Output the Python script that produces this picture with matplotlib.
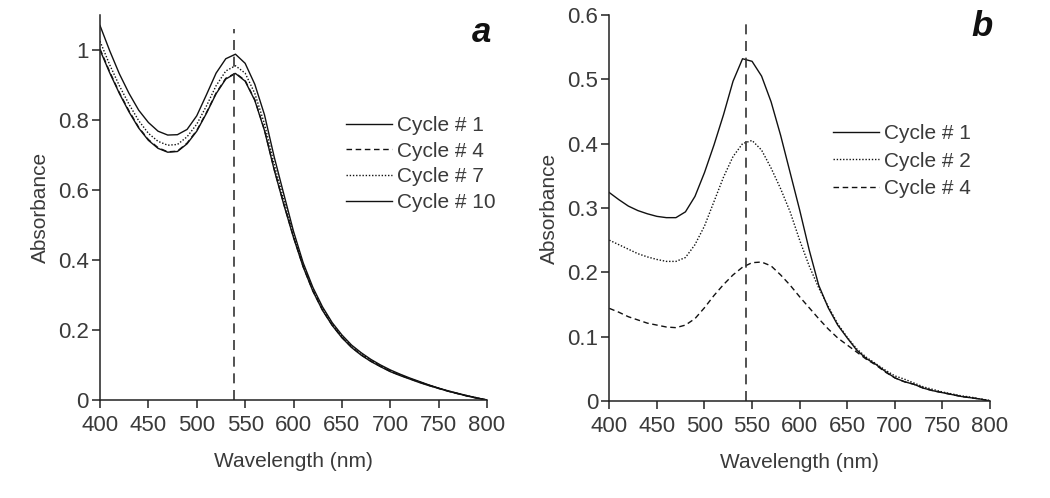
import matplotlib
matplotlib.use("Agg")
import matplotlib.pyplot as plt
import numpy as np

plt.rcParams['font.family'] = ['Liberation Sans', 'DejaVu Sans']

# ---------------- data ----------------
wl = list(range(400, 801, 10))

# Panel a
a_cycle1 = [1.070, 0.998, 0.932, 0.876, 0.828, 0.793, 0.768, 0.757, 0.758, 0.773,
            0.812, 0.872, 0.934, 0.975, 0.988, 0.962, 0.902, 0.815, 0.695, 0.588,
            0.482, 0.392, 0.322, 0.266, 0.221, 0.186, 0.157, 0.135, 0.116, 0.100,
            0.086, 0.074, 0.063, 0.053, 0.043, 0.034, 0.026, 0.019, 0.012, 0.006, 0.000]
a_cycle4 = [1.003, 0.938, 0.878, 0.826, 0.779, 0.744, 0.721, 0.709, 0.711, 0.734,
            0.770, 0.821, 0.877, 0.919, 0.934, 0.913, 0.858, 0.772, 0.660, 0.560,
            0.466, 0.381, 0.312, 0.257, 0.214, 0.179, 0.151, 0.129, 0.111, 0.096,
            0.082, 0.071, 0.061, 0.051, 0.042, 0.033, 0.025, 0.018, 0.011, 0.005, 0.000]
a_cycle7 = [1.025, 0.958, 0.898, 0.845, 0.798, 0.762, 0.739, 0.728, 0.730, 0.752,
            0.788, 0.840, 0.898, 0.940, 0.955, 0.934, 0.876, 0.789, 0.674, 0.572,
            0.472, 0.386, 0.316, 0.261, 0.217, 0.182, 0.154, 0.132, 0.114, 0.098,
            0.084, 0.072, 0.062, 0.052, 0.042, 0.034, 0.026, 0.018, 0.012, 0.006, 0.000]
a_cycle10 = [1.000, 0.935, 0.876, 0.823, 0.777, 0.742, 0.719, 0.708, 0.710, 0.732,
             0.768, 0.819, 0.875, 0.917, 0.933, 0.911, 0.856, 0.770, 0.658, 0.558,
             0.464, 0.380, 0.311, 0.256, 0.213, 0.178, 0.150, 0.128, 0.110, 0.095,
             0.081, 0.070, 0.060, 0.050, 0.041, 0.033, 0.025, 0.018, 0.011, 0.005, 0.000]

# Panel b
b_cycle1 = [0.324, 0.313, 0.303, 0.296, 0.291, 0.287, 0.285, 0.285, 0.294, 0.318,
            0.355, 0.398, 0.445, 0.497, 0.532, 0.528, 0.505, 0.465, 0.413, 0.355,
            0.297, 0.235, 0.180, 0.145, 0.118, 0.098, 0.079, 0.066, 0.057, 0.046,
            0.036, 0.030, 0.026, 0.020, 0.016, 0.013, 0.010, 0.007, 0.005, 0.003, 0.000]
b_cycle2 = [0.250, 0.243, 0.236, 0.229, 0.224, 0.220, 0.217, 0.217, 0.223, 0.243,
            0.272, 0.310, 0.348, 0.380, 0.400, 0.405, 0.390, 0.362, 0.330, 0.294,
            0.250, 0.210, 0.176, 0.147, 0.120, 0.099, 0.081, 0.068, 0.058, 0.048,
            0.039, 0.034, 0.028, 0.022, 0.018, 0.014, 0.011, 0.008, 0.006, 0.003, 0.001]
b_cycle4 = [0.144, 0.138, 0.131, 0.126, 0.121, 0.118, 0.115, 0.114, 0.118, 0.128,
            0.145, 0.164, 0.181, 0.196, 0.208, 0.215, 0.216, 0.210, 0.196, 0.180,
            0.162, 0.145, 0.128, 0.112, 0.098, 0.087, 0.076, 0.065, 0.056, 0.045,
            0.036, 0.030, 0.026, 0.020, 0.016, 0.013, 0.010, 0.007, 0.005, 0.003, 0.000]

peak_a = 538.5
peak_b = 543.5

a_yticks = [0, 0.2, 0.4, 0.6, 0.8, 1.0]
a_yticklabels = ["0", "0.2", "0.4", "0.6", "0.8", "1"]
b_yticks = [0, 0.1, 0.2, 0.3, 0.4, 0.5, 0.6]
b_yticklabels = ["0", "0.1", "0.2", "0.3", "0.4", "0.5", "0.6"]
xticks = list(range(400, 801, 50))

# ---------------- styles ----------------
txt = '#3a3a3a'
line_c = '#111111'
solid = '-'
dashed = (0, (4.0, 2.6))
dotted = (0, (1.0, 1.3))

fig = plt.figure(figsize=(10.5, 4.98), dpi=100)
axA = fig.add_axes([100/1050, 1-400/498, 387/1050, 385/498])
axB = fig.add_axes([609.3/1050, 1-401/498, 380.7/1050, 386/498])


def style(ax, ylim, yt, ytl):
    ax.set_xlim(400, 800)
    ax.set_ylim(*ylim)
    for s in ('top', 'right'):
        ax.spines[s].set_visible(False)
    for s in ('left', 'bottom'):
        ax.spines[s].set_color('#222222')
        ax.spines[s].set_linewidth(1.1)
    ax.set_xticks(xticks)
    ax.set_xticklabels([str(x) for x in xticks])
    ax.set_yticks(yt)
    ax.set_yticklabels(ytl)
    ax.tick_params(direction='out', length=6, width=1.1, color='#222222',
                   labelsize=16, labelcolor=txt)
    ax.tick_params(axis='x', pad=5)
    ax.tick_params(axis='y', pad=2)
    ax.set_xlabel('Wavelength (nm)', fontsize=15, color=txt, labelpad=11)
    ax.set_ylabel('Absorbance', fontsize=15, color=txt, labelpad=6)


style(axA, (0, 1.1), a_yticks, a_yticklabels)
style(axB, (0, 0.6), b_yticks, b_yticklabels)

lw = 1.0
axA.plot(wl, a_cycle1, color=line_c, lw=lw, ls=solid, label='Cycle # 1')
axA.plot(wl, a_cycle4, color=line_c, lw=lw, ls=dashed, label='Cycle # 4')
axA.plot(wl, a_cycle7, color=line_c, lw=lw, ls=dotted, label='Cycle # 7')
axA.plot(wl, a_cycle10, color=line_c, lw=lw, ls=solid, label='Cycle # 10')
axA.plot([peak_a, peak_a], [0, 1.06], color='#333333', lw=1.2, ls=(0, (6, 4)))

axB.plot(wl, b_cycle1, color=line_c, lw=lw, ls=solid, label='Cycle # 1')
axB.plot(wl, b_cycle2, color=line_c, lw=lw, ls=dotted, label='Cycle # 2')
axB.plot(wl, b_cycle4, color=line_c, lw=lw, ls=dashed, label='Cycle # 4')
axB.plot([peak_b, peak_b], [0, 0.595], color='#333333', lw=1.2, ls=(0, (6, 4)))

for ax, anchor, spacing in ((axA, (246/387, 1-101/385), 0.32), (axB, (224/380.7, 1-109/386), 0.42)):
    leg = ax.legend(loc='upper left', bbox_to_anchor=anchor, frameon=False,
                    fontsize=15, handlelength=2.2, handletextpad=0.25,
                    labelspacing=spacing, borderpad=0, borderaxespad=0)
    for t in leg.get_texts():
        t.set_color(txt)

fig.text(482/1050, 1-32/498, 'a', fontsize=25, fontweight='bold', fontstyle='italic',
         ha='center', va='center', color='#111111')
fig.text(982/1050, 1-27/498, 'b', fontsize=25, fontweight='bold', fontstyle='italic',
         ha='center', va='center', color='#111111')

fig.savefig('out.png', dpi=100)
